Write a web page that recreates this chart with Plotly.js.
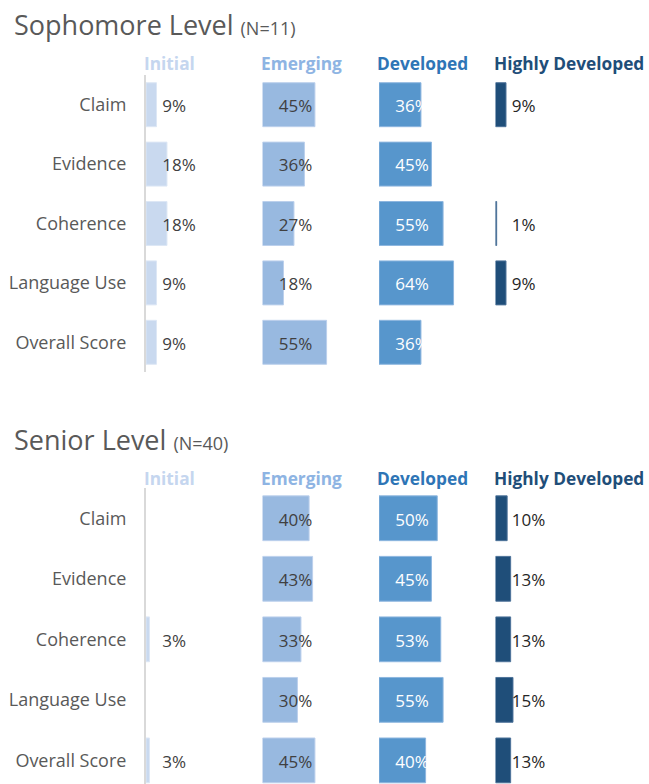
<!DOCTYPE html>
<html>
<head>
<meta charset="utf-8">
<script src="https://cdn.plot.ly/plotly-3.0.1.min.js"></script>
<style>html,body{margin:0;padding:0;background:#fff;}#chart{width:649px;height:784px;}</style>
</head>
<body>
<div id="chart"></div>
<script>
// ---- data ----
const criteria = ["Claim", "Evidence", "Coherence", "Language Use", "Overall Score"];
const levels = ["Initial", "Emerging", "Developed", "Highly Developed"];
const panelTitles = ["Sophomore Level", "Senior Level"];
const panelN = ["(N=11)", "(N=40)"];

const sophInitial   = [9, 18, 18, 9, 9];
const sophEmerging  = [45, 36, 27, 18, 55];
const sophDeveloped = [36, 45, 55, 64, 36];
const sophHighly    = [9, 0, 1, 9, 0];

const senInitial    = [0, 0, 3, 0, 3];
const senEmerging   = [40, 43, 33, 30, 45];
const senDeveloped  = [50, 45, 53, 55, 40];
const senHighly     = [10, 13, 13, 15, 13];

// ---- styling ----
const FONT = "'Open Sans', 'Noto Sans', sans-serif";
const barColors = ["#c9d9ef", "#98b9e0", "#5796cc", "#1f4e79"];
const barLines  = ["#dde7f5", "#bcd0ec", "#8db6df", "#4d7299"];
const headColors = ["#c5d6ef", "#8eb4e3", "#2e75b6", "#1f4e79"];
const labelColors = ["#404040", "#404040", "#ffffff", "#262626"];

const panels = [
  [sophInitial, sophEmerging, sophDeveloped, sophHighly],
  [senInitial, senEmerging, senDeveloped, senHighly]
];

const yIdx = criteria.map((c, i) => i);
const traces = [];
panels.forEach((series, p) => {
  const ya = p === 0 ? "y" : "y2";
  series.forEach((vals, k) => {
    const xa = k === 0 ? "x" : "x" + (k + 1);
    traces.push({
      type: "bar", orientation: "h",
      x: vals, y: yIdx, xaxis: xa, yaxis: ya,
      width: 0.74,
      marker: {color: barColors[k], line: {color: barLines[k], width: vals.map(v => v > 0 ? 1 : 0)}},
      hoverinfo: "skip", showlegend: false
    });
    traces.push({
      type: "scatter", mode: "text",
      x: vals.map(() => 14), y: yIdx.map(i => i + 0.05), xaxis: xa, yaxis: ya,
      text: vals.map(v => v > 0 ? v + "%" : ""),
      textposition: "middle right",
      textfont: {family: FONT, size: 17, color: labelColors[k]},
      cliponaxis: false, hoverinfo: "skip", showlegend: false
    });
  });
});

const H = 784;
const layout = {
  width: 649, height: 784,
  margin: {l: 146, r: 37, t: 0, b: 0},
  paper_bgcolor: "#ffffff", plot_bgcolor: "#ffffff",
  showlegend: false,
  barmode: "overlay",
  font: {family: FONT, color: "#595959"},
  annotations: []
};
for (let k = 0; k < 4; k++) {
  const key = k === 0 ? "xaxis" : "xaxis" + (k + 1);
  layout[key] = {
    domain: [k * 0.25, (k + 1) * 0.25], range: [0, 100],
    showgrid: false, zeroline: false, showline: false, showticklabels: false, ticks: "",
    anchor: "y", fixedrange: true
  };
}
const yCommon = {
  anchor: "x", tickmode: "array", tickvals: yIdx, ticktext: criteria,
  showgrid: false, zeroline: false, showline: true, linecolor: "#d9d9d9", linewidth: 2,
  ticks: "outside", ticklen: 14, tickcolor: "rgba(0,0,0,0)",
  tickfont: {family: FONT, size: 18, color: "#595959"}, fixedrange: true
};
layout.yaxis  = Object.assign({}, yCommon, {domain: [1 - 372 / H, 1 - 75 / H], range: [4.5, -0.5]});
layout.yaxis2 = Object.assign({}, yCommon, {domain: [0, 1 - 488 / H], range: [4.39, -0.5]});

// panel titles and column headers
const titleY = [25, 440];
const headY = [63, 478];
panelTitles.forEach((t, p) => {
  layout.annotations.push({
    xref: "paper", yref: "paper", x: -134 / 466, y: 1 - titleY[p] / H,
    xanchor: "left", yanchor: "middle", showarrow: false,
    text: t + ' <span style="font-size:18px">' + panelN[p] + '</span>',
    font: {family: FONT, size: 27, color: "#595959"}
  });
  levels.forEach((lv, k) => {
    layout.annotations.push({
      xref: (k === 0 ? "x" : "x" + (k + 1)) + " domain", yref: "paper",
      x: 0, y: 1 - headY[p] / H, xshift: -4,
      xanchor: "left", yanchor: "middle", showarrow: false,
      text: "<b>" + lv + "</b>",
      font: {family: FONT, size: 17.3, color: headColors[k]}
    });
  });
});

Plotly.newPlot("chart", traces, layout, {staticPlot: true, displayModeBar: false});
</script>
</body>
</html>
